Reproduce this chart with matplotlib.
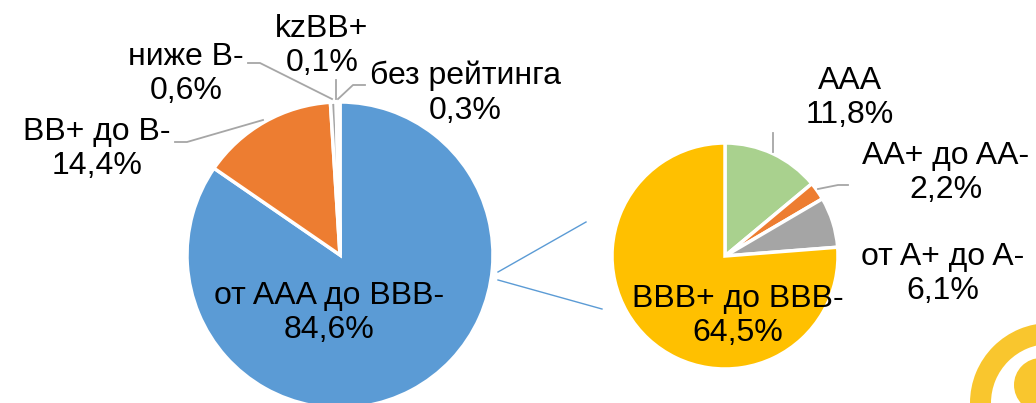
import matplotlib.pyplot as plt
from matplotlib.patches import Wedge, Circle

plt.rcParams['font.family'] = ['Liberation Sans', 'DejaVu Sans']

# left pie: whole portfolio by rating
left_labels = ['от AAA до BBB-', 'BB+ до B-', 'ниже B-', 'kzBB+', 'без рейтинга']
left_values = [84.6, 14.4, 0.6, 0.1, 0.3]
left_colors = ['#5B9BD5', '#ED7D31', '#A5A5A5', '#FFC000', '#4472C4']

# right pie: breakdown of the investment grade part
right_labels = ['AAA', 'AA+ до AA-', 'от A+ до A-', 'BBB+ до BBB-']
right_values = [11.8, 2.2, 6.1, 64.5]
right_colors = ['#A9D18E', '#ED7D31', '#A5A5A5', '#FFC000']

W, H = 1036, 403
fig = plt.figure(figsize=(W / 100, H / 100), dpi=100)
ax = fig.add_axes([0, 0, 1, 1])


def Y(y):
    # picture rows are counted from the top
    return H - y


def pct(v):
    return f'{v:.1f}%'.replace('.', ',')


fs = 23
wp = dict(edgecolor='white', linewidth=2.5)
ax.pie(left_values, colors=left_colors, startangle=90, counterclock=False,
       center=(340, Y(255)), radius=153, wedgeprops=wp)
ax.pie(right_values, colors=right_colors, startangle=90, counterclock=False,
       center=(725, Y(256)), radius=113, wedgeprops=wp)

# connector lines between the pies
ax.plot([498, 586], [Y(272), Y(222)], color='#5B9BD5', lw=1)
ax.plot([498, 602], [Y(280), Y(309)], color='#5B9BD5', lw=1)

# leader lines
lc = '#A6A6A6'
leaders = [
    [(175, 142), (187, 142), (263, 120)],
    [(248, 63), (260, 63), (332, 99)],
    [(336, 80), (336, 99)],
    [(365, 85), (353, 85), (338, 99)],
    [(773, 133), (773, 152)],
    [(848, 185), (838, 185), (818, 189)],
]
for pts in leaders:
    ax.plot([p[0] for p in pts], [Y(p[1]) for p in pts], color=lc, lw=1.3)

# data labels (name + share)
label_pos = {
    'от AAA до BBB-': (329, 313),
    'BB+ до B-': (97, 149),
    'ниже B-': (186, 74),
    'kzBB+': (322, 46),
    'без рейтинга': (465, 93),
    'AAA': (850, 98),
    'AA+ до AA-': (946, 173),
    'от A+ до A-': (943, 274),
    'BBB+ до BBB-': (738, 316),
}
for names, vals in [(left_labels, left_values), (right_labels, right_values)]:
    for n, v in zip(names, vals):
        x, y = label_pos[n]
        ax.text(x, Y(y), n + '\n' + pct(v), ha='center', va='center',
                fontsize=fs, linespacing=1.2, color='black')

# logo in the corner
logo = '#F9C62E'
ax.add_patch(Wedge((1050, Y(403)), 80, 0, 360, width=21, color=logo, lw=0))
ax.add_patch(Circle((1041, Y(385)), 27, color=logo, lw=0))

ax.set_xlim(0, W)
ax.set_ylim(0, H)
ax.set_aspect('equal')
ax.axis('off')

fig.savefig('out.png', dpi=100)
